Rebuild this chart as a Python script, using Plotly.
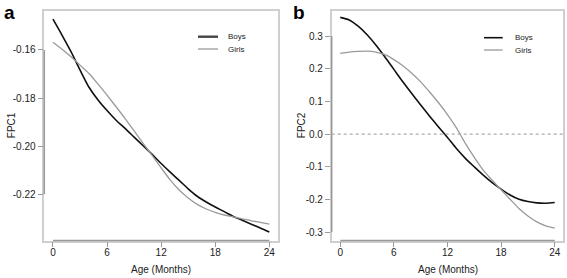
import plotly.graph_objects as go

# ---------------- data ----------------
months = list(range(0, 25))

fpc1_boys = [-0.1472, -0.1538, -0.1607, -0.1683, -0.1755, -0.1808, -0.1852, -0.1892,
             -0.1926, -0.1962, -0.1998, -0.2034, -0.2072, -0.2108, -0.2142, -0.2177,
             -0.2208, -0.2232, -0.2253, -0.2272, -0.2292, -0.2308, -0.2324, -0.2340, -0.2357]
fpc1_girls = [-0.1568, -0.1597, -0.1628, -0.1663, -0.1698, -0.1742, -0.1788, -0.1836,
              -0.1885, -0.1936, -0.1988, -0.2038, -0.2090, -0.2140, -0.2182, -0.2215,
              -0.2242, -0.2261, -0.2275, -0.2286, -0.2294, -0.2302, -0.2310, -0.2317, -0.2324]

fpc2_boys = [0.357, 0.349, 0.330, 0.304, 0.272, 0.236, 0.198, 0.160, 0.124, 0.089,
             0.055, 0.022, -0.010, -0.044, -0.074, -0.100, -0.125, -0.148, -0.168,
             -0.186, -0.199, -0.206, -0.210, -0.211, -0.209]
fpc2_girls = [0.247, 0.251, 0.253, 0.254, 0.251, 0.243, 0.228, 0.209, 0.186, 0.160,
              0.129, 0.096, 0.060, 0.019, -0.028, -0.071, -0.110, -0.141, -0.170,
              -0.199, -0.227, -0.250, -0.268, -0.280, -0.287]

x_ticks = [0, 6, 12, 18, 24]
fpc1_ticks = [-0.16, -0.18, -0.20, -0.22]
fpc1_ticklabels = ["-0.16", "-0.18", "-0.20", "-0.22"]
fpc2_ticks = [0.3, 0.2, 0.1, 0.0, -0.1, -0.2, -0.3]
fpc2_ticklabels = ["0.3", "0.2", "0.1", "0.0", "-0.1", "-0.2", "-0.3"]

series_names = ["Boys", "Girls"]
x_title = "Age (Months)"
y_titles = ["FPC1", "FPC2"]
panel_labels = ["a", "b"]

# ---------------- style ----------------
W, H = 567, 278
FONT = "Liberation Sans, Arial, Helvetica, sans-serif"
BOY_COLOR = "#111111"
GIRL_COLOR = "#9a9a9a"
BOX_COLOR = "#cfcfcf"
AXIS_COLOR = "#9a9a9a"
TEXT_COLOR = "#222222"

# pixel geometry
ax_a = (44.3, 278.0)
ax_b = (331.7, 563.3)
y_top, y_bot = 11.0, 240.5

def px_x(p):
    return p / W

def px_y(p):
    return 1 - p / H

xrange = [-0.96, 24.96]
yrange_a = [-0.2392, -0.1438]
yrange_b = [-0.325, 0.3765]

fig = go.Figure()

line_kw = dict(shape="spline", smoothing=0.8)
fig.add_trace(go.Scatter(x=months, y=fpc1_boys, mode="lines", name=series_names[0],
                         line=dict(color=BOY_COLOR, width=1.6, **line_kw),
                         xaxis="x", yaxis="y", showlegend=False))
fig.add_trace(go.Scatter(x=months, y=fpc1_girls, mode="lines", name=series_names[1],
                         line=dict(color=GIRL_COLOR, width=1.3, **line_kw),
                         xaxis="x", yaxis="y", showlegend=False))
fig.add_trace(go.Scatter(x=months, y=fpc2_boys, mode="lines", name=series_names[0],
                         line=dict(color=BOY_COLOR, width=1.6, **line_kw),
                         xaxis="x2", yaxis="y2", showlegend=False))
fig.add_trace(go.Scatter(x=months, y=fpc2_girls, mode="lines", name=series_names[1],
                         line=dict(color=GIRL_COLOR, width=1.3, **line_kw),
                         xaxis="x2", yaxis="y2", showlegend=False))

axis_common = dict(showgrid=False, zeroline=False, showline=True, mirror=True,
                   linecolor=BOX_COLOR, linewidth=1.5, ticks="outside", ticklen=5,
                   tickwidth=1, tickcolor=AXIS_COLOR, automargin=False,
                   tickfont=dict(family=FONT, size=10, color=TEXT_COLOR))
xaxis_extra = dict(ticklabelstandoff=-3)

fig.update_layout(
    width=W, height=H,
    margin=dict(l=0, r=0, t=0, b=0),
    paper_bgcolor="white", plot_bgcolor="white",
    font=dict(family=FONT, color=TEXT_COLOR),
    xaxis=dict(domain=[px_x(ax_a[0]), px_x(ax_a[1])], range=xrange, tickvals=x_ticks,
               anchor="y", **axis_common, **xaxis_extra),
    yaxis=dict(domain=[px_y(y_bot), px_y(y_top)], range=yrange_a, tickvals=fpc1_ticks,
               ticktext=fpc1_ticklabels, anchor="x", **axis_common),
    xaxis2=dict(domain=[px_x(ax_b[0]), px_x(ax_b[1])], range=xrange, tickvals=x_ticks,
                anchor="y2", **axis_common, **xaxis_extra),
    yaxis2=dict(domain=[px_y(y_bot), px_y(y_top)], range=yrange_b, tickvals=fpc2_ticks,
                ticktext=fpc2_ticklabels, anchor="x2", **axis_common),
)

shapes = []
# R-style axis lines spanning first to last tick
for xa, ya, yt in [("x", "y", fpc1_ticks), ("x2", "y2", fpc2_ticks)]:
    shapes.append(dict(type="line", xref=f"{xa} domain", yref=ya, x0=0, x1=0,
                       y0=min(yt), y1=max(yt), line=dict(color=AXIS_COLOR, width=1.5)))
    shapes.append(dict(type="line", xref=xa, yref=f"{ya} domain", x0=min(x_ticks),
                       x1=max(x_ticks), y0=0, y1=0, line=dict(color=AXIS_COLOR, width=1.5)))
# zero reference line in panel b
shapes.append(dict(type="line", xref="x2 domain", yref="y2", x0=0, x1=1, y0=0, y1=0,
                   line=dict(color="#aaaaaa", width=1.2, dash="dot")))

# manual legends
annotations = []
legend_specs = [
    (198, 218, 225.7, [36.7, 49.0], [("#444444", 2.4), (GIRL_COLOR, 1.3)]),
    (484, 502.7, 512.7, [37.7, 50.0], [(BOY_COLOR, 1.6), (GIRL_COLOR, 1.3)]),
]
for x0, x1, xt, ys, styles in legend_specs:
    for name, yy, (c, w) in zip(series_names, ys, styles):
        shapes.append(dict(type="line", xref="paper", yref="paper", x0=px_x(x0), x1=px_x(x1),
                           y0=px_y(yy), y1=px_y(yy), line=dict(color=c, width=w)))
        annotations.append(dict(text=name, xref="paper", yref="paper", x=px_x(xt), y=px_y(yy),
                                xanchor="left", yanchor="middle", showarrow=False,
                                font=dict(family=FONT, size=8, color=TEXT_COLOR)))

# axis titles
for cx, yl, xl in [(161.3, 11.7, y_titles[0]), (448.2, 301.7, y_titles[1])]:
    annotations.append(dict(text=x_title, xref="paper", yref="paper", x=px_x(cx), y=px_y(269),
                            xanchor="center", yanchor="middle", showarrow=False,
                            font=dict(family=FONT, size=10, color=TEXT_COLOR)))
    annotations.append(dict(text=xl, xref="paper", yref="paper", x=px_x(yl), y=px_y(125.5),
                            xanchor="center", yanchor="middle", showarrow=False, textangle=-90,
                            font=dict(family=FONT, size=10, color=TEXT_COLOR)))

# panel labels
for lab, lx in zip(panel_labels, [1.5, 291.0]):
    annotations.append(dict(text=f"<b>{lab}</b>", xref="paper", yref="paper", x=px_x(lx),
                            y=px_y(0.5), xanchor="left", yanchor="top", showarrow=False,
                            font=dict(family=FONT, size=19, color="#000000")))

fig.update_layout(shapes=shapes, annotations=annotations)

fig.write_html("out.html", config={"displayModeBar": False},
               post_script="document.body.style.margin='0';document.body.style.overflow='hidden';")
